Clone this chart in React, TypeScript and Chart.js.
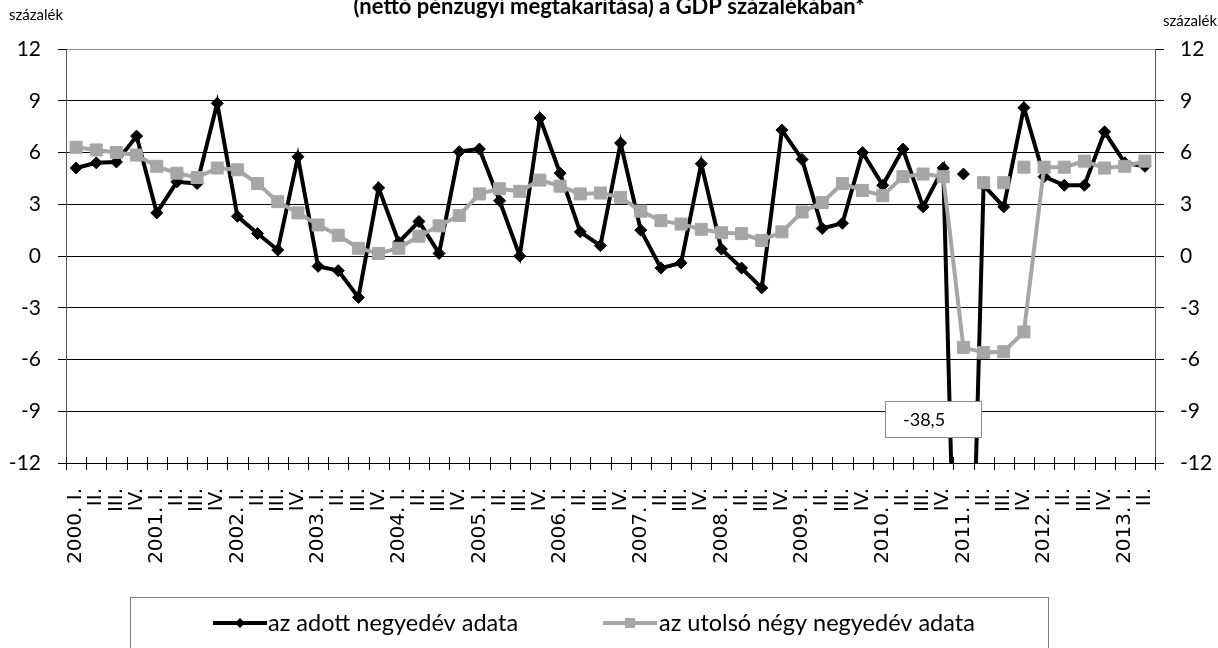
import React, { useEffect, useRef } from 'react';
import { Chart, registerables } from 'chart.js';

Chart.register(...registerables);

const years = ['2000', '2001', '2002', '2003', '2004', '2005', '2006', '2007', '2008', '2009', '2010', '2011', '2012', '2013'];
const quarters = ['I.', 'II.', 'III.', 'IV.'];
const quarterCount = 54;

const categories: string[] = [];
for (let i = 0; i < quarterCount; i++) {
  const y = years[Math.floor(i / 4)];
  const q = quarters[i % 4];
  categories.push(i % 4 === 0 ? `${y}. ${q}` : q);
}

const quarterly = [
  5.1, 5.4, 5.45, 6.95, 2.5, 4.3, 4.2, 8.85, 2.3, 1.3,
  0.35, 5.75, -0.6, -0.85, -2.4, 3.95, 0.8, 2.0, 0.15, 6.05,
  6.2, 3.2, 0.0, 8.0, 4.8, 1.4, 0.6, 6.55, 1.5, -0.7,
  -0.4, 5.35, 0.4, -0.7, -1.85, 7.3, 5.6, 1.6, 1.9, 6.0,
  4.1, 6.2, 2.85, 5.1, -38.5, 4.1, 2.85, 8.6, 4.6, 4.1,
  4.1, 7.2, 5.4, 5.2,
];

const fourQuarter = [
  6.3, 6.15, 6.0, 5.85, 5.2, 4.8, 4.55, 5.1, 5.0, 4.2,
  3.15, 2.5, 1.8, 1.2, 0.45, 0.15, 0.45, 1.15, 1.75, 2.35,
  3.6, 3.9, 3.75, 4.4, 4.05, 3.6, 3.65, 3.4, 2.6, 2.05,
  1.85, 1.55, 1.35, 1.3, 0.9, 1.4, 2.55, 3.1, 4.2, 3.8,
  3.5, 4.6, 4.75, 4.6, -5.3, -5.6, -5.55, -4.4, 5.15, 5.15,
  5.5, 5.1, 5.2, 5.5,
];

// values without the one-off effect (isolated markers)
const quarterlyAdjustedIndex = [44];
const quarterlyAdjustedValues = [4.75];
const fourQuarterAdjustedIndex = [45, 46, 47];
const fourQuarterAdjustedValues = [4.25, 4.25, 5.15];

const seriesNames = ['az adott negyedév adata', 'az utolsó négy negyedév adata'];
const titleLine = '(nettó pénzügyi megtakarítása) a GDP százalékában*';
const unitLabel = 'százalék';
const annotationText = '-38,5';
const yMin = -12;
const yMax = 12;
const yStep = 3;

const BLACK = '#000000';
const GREY = '#a6a6a6';

function sparse(idx: number[], vals: number[]): (number | null)[] {
  const arr: (number | null)[] = new Array(quarterCount).fill(null);
  idx.forEach((k, j) => { arr[k] = vals[j]; });
  return arr;
}

const decorPlugin = {
  id: 'decor',
  afterDraw(chart: any) {
    const ctx: CanvasRenderingContext2D = chart.ctx;
    const { bottom } = chart.chartArea;
    const xs = chart.scales.x;
    ctx.save();

    // x-axis tick marks crossing the axis line
    ctx.strokeStyle = '#000';
    ctx.lineWidth = 1;
    ctx.beginPath();
    for (let i = 0; i <= categories.length; i++) {
      const x = Math.round(xs.getPixelForValue(i - 0.5)) + 0.5;
      ctx.moveTo(x, bottom - 6);
      ctx.lineTo(x, bottom + 7);
    }
    ctx.stroke();

    // title (second line only visible)
    ctx.fillStyle = '#000';
    ctx.font = 'bold 22px Lato';
    ctx.textAlign = 'center';
    ctx.textBaseline = 'alphabetic';
    ctx.fillText(titleLine, 609, 14);

    // unit labels
    ctx.font = '15px Lato';
    ctx.textAlign = 'left';
    ctx.fillText(unitLabel, 9, 20);
    ctx.fillText(unitLabel, 1163, 26);

    // annotation box
    ctx.fillStyle = '#fff';
    ctx.fillRect(885, 401, 97, 37);
    ctx.strokeStyle = '#8c8c8c';
    ctx.lineWidth = 1;
    ctx.strokeRect(885.5, 401.5, 96, 36);
    ctx.fillStyle = '#000';
    ctx.font = '18px Lato';
    ctx.textBaseline = 'middle';
    ctx.fillText(annotationText, 903, 420);

    // legend box
    ctx.strokeStyle = '#808080';
    ctx.strokeRect(130.5, 597.5, 918, 60);

    // legend entry 1
    const ly = 623;
    ctx.strokeStyle = BLACK;
    ctx.lineWidth = 4;
    ctx.beginPath();
    ctx.moveTo(213, ly);
    ctx.lineTo(267, ly);
    ctx.stroke();
    ctx.fillStyle = BLACK;
    ctx.beginPath();
    ctx.moveTo(240 - 5, ly);
    ctx.lineTo(240, ly - 5);
    ctx.lineTo(240 + 5, ly);
    ctx.lineTo(240, ly + 5);
    ctx.closePath();
    ctx.fill();
    ctx.font = '23.5px Lato';
    ctx.textBaseline = 'middle';
    ctx.fillText(seriesNames[0], 268, ly);

    // legend entry 2
    ctx.strokeStyle = GREY;
    ctx.lineWidth = 4;
    ctx.beginPath();
    ctx.moveTo(603, ly);
    ctx.lineTo(657, ly);
    ctx.stroke();
    ctx.fillStyle = GREY;
    ctx.fillRect(630 - 5, ly - 5, 10, 10);
    ctx.fillStyle = '#000';
    ctx.fillText(seriesNames[1], 659, ly);

    ctx.restore();
  },
};

export default function App() {
  const ref = useRef<HTMLCanvasElement | null>(null);

  useEffect(() => {
    if (!ref.current) return;
    Chart.defaults.font.family = 'Lato';
    const chart = new Chart(ref.current, {
      type: 'line',
      data: {
        labels: categories,
        datasets: [
          {
            label: seriesNames[0],
            data: quarterly,
            borderColor: BLACK,
            backgroundColor: BLACK,
            borderWidth: 4,
            pointStyle: 'rectRot',
            pointRadius: 6,
            pointBackgroundColor: BLACK,
            pointBorderColor: BLACK,
            pointBorderWidth: 1,
            tension: 0,
            order: 1,
          },
          {
            label: seriesNames[1],
            data: fourQuarter,
            borderColor: GREY,
            backgroundColor: GREY,
            borderWidth: 4,
            pointStyle: 'rect',
            pointRadius: 8.5,
            pointBackgroundColor: GREY,
            pointBorderColor: GREY,
            pointBorderWidth: 1,
            tension: 0,
            order: 0,
          },
          {
            label: 'adj1',
            data: sparse(quarterlyAdjustedIndex, quarterlyAdjustedValues),
            showLine: false,
            pointStyle: 'rectRot',
            pointRadius: 6,
            pointBackgroundColor: BLACK,
            pointBorderColor: BLACK,
            pointBorderWidth: 1,
            order: 1,
          },
          {
            label: 'adj2',
            data: sparse(fourQuarterAdjustedIndex, fourQuarterAdjustedValues),
            showLine: false,
            pointStyle: 'rect',
            pointRadius: 8.5,
            pointBackgroundColor: GREY,
            pointBorderColor: GREY,
            pointBorderWidth: 1,
            order: 0,
          },
        ],
      },
      options: {
        responsive: false,
        animation: false,
        devicePixelRatio: 1,
        layout: { padding: { top: 49, bottom: 65, left: 0, right: 0 } },
        plugins: {
          legend: { display: false },
          tooltip: { enabled: false },
          title: { display: false },
        },
        scales: {
          x: {
            type: 'category',
            offset: true,
            grid: { display: true, drawOnChartArea: false, drawTicks: false, offset: true },
            border: { display: true, color: '#000', width: 1 },
            ticks: {
              autoSkip: false,
              maxRotation: 90,
              minRotation: 90,
              padding: 25,
              color: '#000',
              font: { family: '"DejaVu Sans"', size: 20 },
            },
            afterFit: (s: any) => { s.height = 120; },
          },
          y: {
            type: 'linear',
            position: 'left',
            min: yMin,
            max: yMax,
            ticks: {
              stepSize: yStep,
              color: '#000',
              padding: 17,
              font: { family: 'Lato', size: 21 },
            },
            grid: {
              color: (c: any) => (c.tick && c.tick.value === yMax ? '#8c8c8c' : '#000'),
              tickColor: '#000',
              tickLength: 8,
              lineWidth: 1,
            },
            border: { display: true, color: '#595959', width: 1 },
            afterFit: (s: any) => { s.width = 66; },
          },
          y2: {
            type: 'linear',
            position: 'right',
            min: yMin,
            max: yMax,
            ticks: {
              stepSize: yStep,
              color: '#000',
              padding: 16,
              font: { family: 'Lato', size: 21 },
            },
            grid: { drawOnChartArea: false, tickColor: '#000', tickLength: 9 },
            border: { display: true, color: '#595959', width: 1 },
            afterFit: (s: any) => { s.width = 63; },
          },
        },
      },
      plugins: [decorPlugin],
    } as any);
    return () => chart.destroy();
  }, []);

  return (
    <div style={{ position: 'absolute', left: 0, top: 0, width: 1218, height: 648, background: '#fff' }}>
      <canvas ref={ref} width={1218} height={648} style={{ display: 'block' }} />
    </div>
  );
}
